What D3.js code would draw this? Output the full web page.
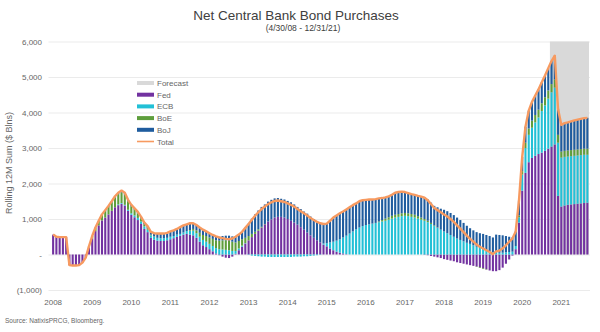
<!DOCTYPE html>
<html>
<head>
<meta charset="utf-8">
<script src="https://cdn.jsdelivr.net/npm/d3@7/dist/d3.min.js"></script>
<style>
  html, body { margin: 0; padding: 0; background: #fff; }
  svg { display: block; font-family: "Liberation Sans", Arial, sans-serif; }
</style>
</head>
<body>
<svg id="chart" width="600" height="332"></svg>
<script>
// Monthly observations, Apr 2008 .. Dec 2021 (rolling 12-month net purchases, $ bn)
const startMonth = new Date(2008, 3, 1);
const endMonth = new Date(2022, 0, 1);
const months = d3.timeMonths(startMonth, endMonth);

const yearLabels = ["2008","2009","2010","2011","2012","2013","2014","2015","2016","2017","2018","2019","2020","2021"];
const yTicks = [-1000, 0, 1000, 2000, 3000, 4000, 5000, 6000];
const forecastFrom = new Date(2021, 0, 1);

const fed = [
  560, 500, 490, 490, 490, -300, -310, -310, -300,                       // 2008
  -230, -90, 200, 450, 660, 820, 960, 1040, 1130, 1230, 1330, 1390,       // 2009
  1430, 1380, 1230, 1120, 1050, 970, 860, 720, 630, 470, 420, 390,        // 2010
  380, 380, 400, 430, 460, 500, 530, 560, 580, 560, 540, 470,             // 2011
  360, 260, 210, 150, 90, 30, -20, -60, -90, -100, -60, 20,               // 2012
  120, 220, 310, 400, 490, 580, 670, 760, 850, 930, 990, 1040,            // 2013
  1060, 1060, 1040, 1000, 950, 900, 840, 770, 700, 620, 540, 470,         // 2014
  400, 340, 280, 230, 170, 120, 80, 50, 30, 10, 0, 0,                     // 2015
  0, 0, 0, 0, 0, 0, 0, 0, 0, 0, 0, 0,                                     // 2016
  0, 0, 0, 0, 0, 0, 0, 0, 0, -10, -20, -40,                               // 2017
  -60, -80, -100, -130, -150, -170, -190, -220, -240, -260, -280, -300,   // 2018
  -320, -340, -360, -390, -420, -450, -470, -470, -440, -370, -260, -140, // 2019
  -30, 150, 900, 1800, 2300, 2600, 2720, 2780, 2830, 2870, 2920, 2980,    // 2020
  3040, 3100, 1650, 1350, 1380, 1400, 1410, 1420, 1430, 1440, 1450, 1460  // 2021
];

const ecb = [
  0, 0, 0, 0, 0, 0, 0, 0, 0,
  0, 0, 0, 0, 0, 0, 0, 0, 0, 0, 0, 20,
  20, 20, 30, 40, 50, 60, 70, 70, 70, 70, 80, 80,
  80, 80, 70, 70, 60, 60, 50, 60, 80, 110, 130, 130,
  140, 150, 150, 150, 150, 150, 150, 140, 130, 120, 100, 80,
  50, 30, 10, -10, -30, -40, -50, -60, -60, -70, -70, -70,
  -70, -70, -70, -70, -70, -60, -60, -60, -50, -50, -40, -30,
  -20, -10, 30, 90, 170, 240, 310, 380, 450, 520, 590, 650,
  710, 760, 800, 830, 850, 870, 890, 910, 930, 950, 980, 1010,
  1040, 1060, 1080, 1090, 1080, 1060, 1040, 1010, 980, 950, 910, 860,
  800, 750, 700, 650, 600, 550, 500, 450, 410, 370, 330, 300,
  260, 220, 180, 150, 120, 90, 70, 60, 50, 50, 60, 70,
  80, 90, 150, 450, 700, 770, 850, 940, 1030, 1170, 1280, 1410,
  1530, 1600, 1500, 1380, 1370, 1360, 1360, 1360, 1360, 1360, 1360, 1350
];

const boe = [
  0, 0, 0, 0, 0, 0, 0, 0, 0,
  0, 0, 30, 70, 100, 130, 160, 190, 210, 240, 270, 290,
  300, 290, 240, 200, 160, 130, 90, 60, 40, 20, 10, 0,
  0, 0, 0, 0, 0, 0, 0, 0, 0, 20, 50, 80,
  110, 140, 160, 180, 200, 220, 240, 260, 270, 270, 260, 240,
  210, 180, 150, 120, 90, 60, 40, 20, 10, 0, 0, 0,
  0, 0, 0, 0, 0, 0, 0, 0, 0, 0, 0, 0,
  0, 0, 0, 0, 0, 0, 0, 0, 0, 0, 0, 0,
  0, 0, 0, 0, 0, 0, 0, 20, 40, 60, 70, 80,
  80, 80, 80, 80, 80, 80, 80, 70, 60, 50, 40, 30,
  20, 10, 0, 0, 0, 0, 0, 0, 0, 0, 0, 0,
  0, -10, -20, -20, -10, 0, 0, 0, 0, 0, 0, 0,
  0, 0, 50, 100, 150, 180, 200, 210, 220, 220, 230, 230,
  230, 230, 220, 170, 170, 170, 170, 170, 170, 170, 170, 170
];

const boj = [
  0, 0, 0, 0, 0, 0, 0, 0, 0,
  0, 0, 0, 0, 0, 0, 10, 20, 30, 30, 40, 40,
  50, 50, 40, 40, 40, 40, 40, 50, 60, 80, 90, 120,
  130, 130, 140, 150, 160, 160, 190, 200, 190, 190, 160, 150,
  150, 150, 130, 120, 110, 110, 110, 120, 130, 140, 150, 160,
  180, 210, 280, 350, 430, 490, 530, 560, 550, 560, 550, 540,
  530, 510, 510, 510, 520, 510, 500, 510, 510, 530, 530, 530,
  540, 550, 550, 550, 610, 680, 710, 730, 730, 740, 740, 740,
  730, 740, 730, 710, 700, 680, 670, 650, 620, 600, 590, 590,
  620, 620, 610, 590, 570, 560, 560, 570, 590, 610, 600, 570,
  550, 570, 590, 610, 620, 620, 610, 590, 560, 520, 480, 440,
  420, 410, 420, 430, 430, 430, 410, 500, 500, 490, 460, 430,
  400, 410, 420, 400, 450, 500, 530, 550, 570, 590, 610, 630,
  650, 670, 730, 750, 780, 790, 810, 830, 840, 850, 860, 870
];

const seriesKeys = ["Fed", "ECB", "BoE", "BoJ"];
const seriesValues = { Fed: fed, ECB: ecb, BoE: boe, BoJ: boj };
const colors = { Fed: "#7232a0", ECB: "#22c0d6", BoE: "#5e9e3c", BoJ: "#1f5c9e", Total: "#f79a60", Forecast: "#d9d9d9" };

const rows = months.map((m, i) => {
  const r = { month: m };
  seriesKeys.forEach(k => { r[k] = seriesValues[k][i]; });
  r.Total = d3.sum(seriesKeys, k => seriesValues[k][i]);
  return r;
});

const svg = d3.select("#chart");
const plotLeft = 51.5, plotRight = 589, plotTop = 41.5, plotBottom = 290;

const x = d3.scaleBand().domain(months).range([plotLeft, plotRight]).paddingInner(0.36).paddingOuter(0.18);
const y = d3.scaleLinear().domain([-1000, 6000]).range([plotBottom, plotTop]);

// horizontal gridlines
const fmt = v => v === 0 ? "-" : (v < 0 ? "(" + d3.format(",")(-v) + ")" : d3.format(",")(v));
svg.append("g")
  .attr("transform", `translate(${plotLeft - 3},0)`)
  .call(d3.axisLeft(y).tickValues(yTicks).tickSize(-(plotRight - plotLeft + 4)).tickFormat(""))
  .call(g => g.select(".domain").remove())
  .call(g => g.selectAll("line").attr("stroke", "#ebebeb").attr("stroke-width", 1));

// y tick labels
svg.append("g")
  .attr("transform", `translate(42,0)`)
  .call(d3.axisLeft(y).tickValues(yTicks).tickSize(0).tickPadding(0).tickFormat(fmt))
  .call(g => g.select(".domain").remove())
  .call(g => g.selectAll("text").attr("fill", "#666").style("font-size", "8px"));

// forecast shading
const fStart = x(forecastFrom) - x.step() * x.paddingInner() / 2;
svg.append("rect")
  .attr("x", fStart)
  .attr("y", y(6000))
  .attr("width", plotRight - fStart)
  .attr("height", y(0) - y(6000))
  .attr("fill", colors.Forecast);

// stacked bars
const stack = d3.stack().keys(seriesKeys).offset(d3.stackOffsetDiverging);
const layers = stack(rows);
svg.append("g").selectAll("g")
  .data(layers)
  .join("g")
  .attr("fill", d => colors[d.key])
  .selectAll("rect")
  .data(d => d)
  .join("rect")
  .attr("x", d => x(d.data.month))
  .attr("width", x.bandwidth())
  .attr("y", d => y(Math.max(d[0], d[1])))
  .attr("height", d => Math.abs(y(d[0]) - y(d[1])));

// total line
const line = d3.line()
  .x(d => x(d.month) + x.bandwidth() / 2)
  .y(d => y(d.Total));
svg.append("path")
  .datum(rows)
  .attr("fill", "none")
  .attr("stroke", colors.Total)
  .attr("stroke-width", 2.4)
  .attr("stroke-linejoin", "round")
  .attr("d", line);

// x axis: a year label every twelfth month
const xTickMonths = months.filter((m, i) => i % 12 === 0);
svg.append("g")
  .attr("transform", `translate(0,${plotBottom + 9})`)
  .call(d3.axisBottom(x).tickValues(xTickMonths).tickSize(0).tickPadding(0)
    .tickFormat((m, i) => yearLabels[i]))
  .call(g => g.select(".domain").remove())
  .call(g => g.selectAll("text").attr("fill", "#666").style("font-size", "8px"));

// y axis title
svg.append("text")
  .attr("transform", "translate(12,163) rotate(-90)")
  .attr("text-anchor", "middle")
  .attr("fill", "#666")
  .style("font-size", "9px")
  .text("Rolling 12M Sum ($ Blns)");

// titles
svg.append("text")
  .attr("x", 296).attr("y", 19.5)
  .attr("text-anchor", "middle")
  .attr("fill", "#404040")
  .style("font-size", "13.5px")
  .text("Net Central Bank Bond Purchases");
svg.append("text")
  .attr("x", 303).attr("y", 31)
  .attr("text-anchor", "middle")
  .attr("fill", "#404040")
  .style("font-size", "8.5px")
  .text("(4/30/08 - 12/31/21)");

// legend
const legendItems = ["Forecast", "Fed", "ECB", "BoE", "BoJ", "Total"];
const lg = svg.append("g").attr("transform", "translate(137,83)");
legendItems.forEach((k, i) => {
  const row = lg.append("g").attr("transform", `translate(0,${i * 11.7})`);
  if (k === "Total") {
    row.append("line").attr("x1", 0).attr("x2", 17).attr("y1", 0).attr("y2", 0)
      .attr("stroke", colors.Total).attr("stroke-width", 1.6);
  } else {
    row.append("rect").attr("x", 0).attr("y", -2).attr("width", 17).attr("height", 4)
      .attr("fill", colors[k]);
  }
  row.append("text").attr("x", 20).attr("y", 3).attr("fill", "#666")
    .style("font-size", "8px").text(k);
});

// source note
svg.append("text")
  .attr("x", 5).attr("y", 323)
  .attr("fill", "#666")
  .style("font-size", "6.5px")
  .text("Source: NatixisPRCG, Bloomberg.");
</script>
</body>
</html>
